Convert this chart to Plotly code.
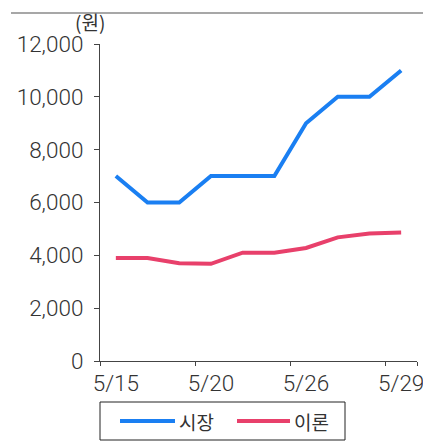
import plotly.graph_objects as go

dates = ["5/15", "5/16", "5/19", "5/20", "5/21", "5/22", "5/26", "5/27", "5/28", "5/29"]
market = [7000, 6000, 6000, 7000, 7000, 7000, 9000, 10000, 10000, 11000]
theory = [3900, 3900, 3700, 3680, 4100, 4100, 4280, 4680, 4830, 4860]
tick_labels = ["5/15", "5/20", "5/26", "5/29"]
series_names = ["시장", "이론"]
colors = ["#1A7FF2", "#E8406B"]

W, H = 423, 442
L, R, T, B = 100, 6, 44, 81
PW, PH = W - L - R, H - T - B

def px(x):
    return (x - L) / PW

def py(y):
    return (H - B - y) / PH

FONT = "Roboto, Liberation Sans, Noto Sans CJK KR"
TXT = "#333333"
TF = dict(size=22.5, color=TXT, family=FONT, weight=300)

fig = go.Figure()
for name, vals, c in zip(series_names, [market, theory], colors):
    fig.add_trace(go.Scatter(x=dates, y=vals, mode="lines", name=name,
                             line=dict(color=c, width=4), showlegend=False))

shapes = [
    dict(type="line", xref="paper", yref="paper", x0=px(11), x1=px(423), y0=py(13), y1=py(13),
         line=dict(color="#8a8a8a", width=1.5)),
    dict(type="rect", xref="paper", yref="paper", x0=px(100), x1=px(345), y0=py(440), y1=py(402),
         line=dict(color="#222", width=1)),
    dict(type="line", xref="paper", yref="paper", x0=px(120), x1=px(175), y0=py(421), y1=py(421),
         line=dict(color=colors[0], width=4)),
    dict(type="line", xref="paper", yref="paper", x0=px(237), x1=px(290), y0=py(421), y1=py(421),
         line=dict(color=colors[1], width=4)),
]
annotations = [
    dict(text="(원)", xref="paper", yref="paper", x=px(90), y=py(21), showarrow=False,
         xanchor="center", yanchor="middle", font=dict(size=19, color=TXT, family="Noto Sans CJK KR")),
    dict(text=series_names[0], xref="paper", yref="paper", x=px(177), y=py(421), showarrow=False,
         xanchor="left", yanchor="middle", font=dict(size=19, color=TXT, family="Noto Sans CJK KR")),
    dict(text=series_names[1], xref="paper", yref="paper", x=px(292), y=py(421), showarrow=False,
         xanchor="left", yanchor="middle", font=dict(size=19, color=TXT, family="Noto Sans CJK KR")),
]

fig.update_layout(
    width=W, height=H, margin=dict(l=L, r=R, t=T, b=B, autoexpand=False),
    paper_bgcolor="white", plot_bgcolor="white",
    font=dict(family=FONT, size=22, color=TXT),
    shapes=shapes, annotations=annotations,
    xaxis=dict(type="category", tickmode="array", tickvals=tick_labels, ticktext=tick_labels,
               tickson="boundaries", ticks="outside", ticklen=4, tickcolor="#444",
               showline=True, linecolor="#444", linewidth=1.2, showgrid=False, automargin=False,
               tickangle=0, ticklabelstandoff=2, range=[-0.5, len(dates) - 0.5], tickfont=TF),
    yaxis=dict(range=[0, 12000], dtick=2000, tickformat=",", ticks="outside", ticklen=5,
               tickcolor="#444", showline=True, linecolor="#444", linewidth=1.2, automargin=False,
               ticklabelstandoff=6, showgrid=False, zeroline=False, tickfont=TF),
)

fig.write_html("out.html", config={"displayModeBar": False},
               post_script="document.body.style.margin='0';document.body.style.overflow='hidden';")
